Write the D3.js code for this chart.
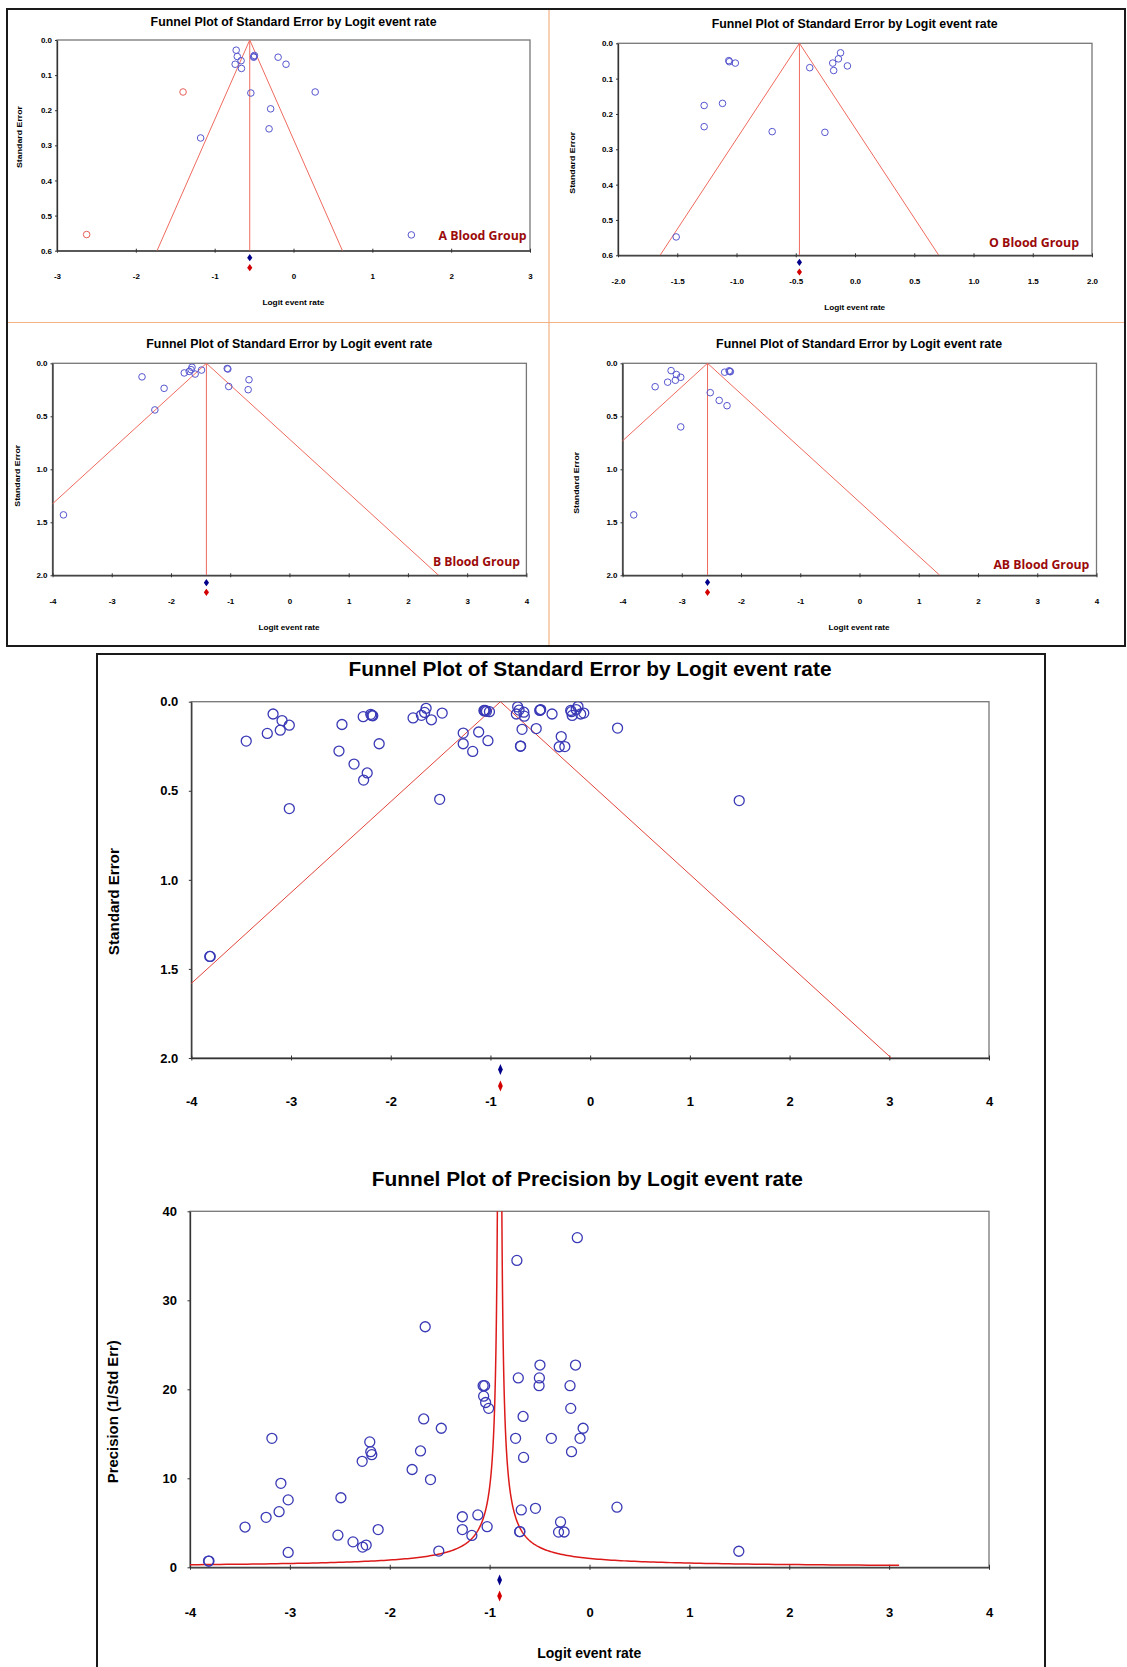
<!DOCTYPE html>
<html>
<head>
<meta charset="utf-8">
<script src="https://cdn.jsdelivr.net/npm/d3@7"></script>
<style>
  body { margin: 0; background: #fff; }
  svg { display: block; }
  text { font-family: "Liberation Sans", Arial, sans-serif; font-weight: bold; fill: #000; }
</style>
</head>
<body>
<div id="chart"></div>
<script>
// ---- data: [logit event rate, standard error] ----
const aPoints = [[-0.727,0.029],[-0.713,0.047],[-0.665,0.059],[-0.740,0.069],[-0.660,0.081],
  [-0.496,0.044],[-0.502,0.047],[-0.505,0.049],[-0.195,0.049],[-0.095,0.069],
  [-0.541,0.151],[0.275,0.148],[-0.290,0.196],[-0.310,0.253],[-1.178,0.279],[1.495,0.555]];
const aImputed = [[-1.401,0.148],[-2.624,0.554]];
const oPoints = [[-1.065,0.049],[-1.060,0.052],[-1.010,0.056],[-1.118,0.170],[-1.273,0.176],
  [-1.273,0.236],[-0.699,0.250],[-1.509,0.548],[-0.382,0.069],[-0.122,0.027],
  [-0.140,0.044],[-0.188,0.056],[-0.180,0.077],[-0.064,0.064],[-0.254,0.252]];
const bPoints = [[-2.489,0.128],[-2.116,0.236],[-2.272,0.440],[-3.815,1.430],[-1.776,0.091],
  [-1.692,0.0765],[-1.660,0.060],[-1.645,0.037],[-1.592,0.1015],[-1.484,0.064],
  [-1.050,0.049],[-1.040,0.054],[-1.025,0.219],[-0.683,0.155],[-0.697,0.249]];
const abPoints = [[-3.180,0.069],[-3.090,0.106],[-3.017,0.132],[-3.108,0.160],[-3.238,0.178],
  [-3.449,0.221],[-3.017,0.600],[-3.810,1.430],[-2.276,0.084],[-2.200,0.071],
  [-2.190,0.077],[-2.180,0.079],[-2.519,0.277],[-2.368,0.350],[-2.236,0.400]];
const allPoints = [...aPoints, ...oPoints, ...bPoints, ...abPoints];

const groupNames = ["A Blood Group", "O Blood Group", "B Blood Group", "AB Blood Group"];
const groupMeans = [-0.555, -0.469, -1.402, -2.565];
const overallMean = -0.9;

const seTicksSmall = [0, 0.1, 0.2, 0.3, 0.4, 0.5, 0.6];
const seTicksLarge = [0, 0.5, 1.0, 1.5, 2.0];
const xTicksA = [-3, -2, -1, 0, 1, 2, 3];
const xTicksO = [-2, -1.5, -1, -0.5, 0, 0.5, 1, 1.5, 2];
const xTicksWide = [-4, -3, -2, -1, 0, 1, 2, 3, 4];
const precisionTicks = [0, 10, 20, 30, 40];

const seTitle = "Funnel Plot of Standard Error by Logit event rate";
const precisionTitle = "Funnel Plot of Precision by Logit event rate";

// ---- drawing ----
const svg = d3.select("#chart").append("svg").attr("width", 1127).attr("height", 1667);

function label(x, y, txt, size, len, opts = {}) {
  const t = svg.append("text")
    .attr("x", x).attr("y", y).attr("dy", "0.35em")
    .attr("text-anchor", opts.anchor || "middle")
    .style("font-size", size + "px")
    .text(txt);
  if (len) t.attr("textLength", len).attr("lengthAdjust", "spacingAndGlyphs");
  if (opts.rotate) t.attr("transform", `rotate(-90,${x},${y})`);
  if (opts.fill) t.style("fill", opts.fill);
  return t;
}

function diamond(w, h) {
  return `M0,${-h}L${w},0L0,${h}L${-w},0Z`;
}

function drawAxes(b, x, y, c) {
  svg.append("rect").attr("x", b.left).attr("y", b.top)
    .attr("width", b.right - b.left).attr("height", b.bottom - b.top)
    .attr("fill", "none").attr("stroke", "#777").attr("stroke-width", 1.3);

  svg.append("g").attr("transform", `translate(0,${b.bottom})`)
    .call(d3.axisBottom(x).tickValues(c.xTicks).tickFormat(d => d.toFixed(c.xDec))
      .tickSizeInner(0).tickSizeOuter(0).tickPadding(c.xPad))
    .call(g => g.attr("font-size", null).attr("font-family", null))
    .call(g => g.select(".domain").attr("stroke", "#333").attr("stroke-width", 1.3))
    .call(g => g.selectAll(".tick line").attr("y1", -c.tick).attr("y2", c.tick).attr("stroke", "#333"))
    .call(g => g.selectAll("text").style("font-size", c.fs + "px"));

  svg.append("g").attr("transform", `translate(${b.left},0)`)
    .call(d3.axisLeft(y).tickValues(c.yTicks).tickFormat(d => d.toFixed(c.yDec))
      .tickSizeInner(0).tickSizeOuter(0).tickPadding(c.yPad))
    .call(g => g.attr("font-size", null).attr("font-family", null))
    .call(g => g.select(".domain").attr("stroke", "#333").attr("stroke-width", 1.3))
    .call(g => g.selectAll(".tick line").attr("x1", -c.tick).attr("x2", 0).attr("stroke", "#333"))
    .call(g => g.selectAll("text").style("font-size", c.fs + "px"));
}

function clipFor(id, b) {
  svg.append("clipPath").attr("id", id).append("rect")
    .attr("x", b.left).attr("y", b.top).attr("width", b.right - b.left).attr("height", b.bottom - b.top);
  return svg.append("g").attr("clip-path", `url(#${id})`);
}

function seFunnel(c) {
  const b = c.box;
  const x = d3.scaleLinear().domain(c.xDomain).range([b.left, b.right]);
  const y = d3.scaleLinear().domain([0, c.seMax]).range([b.top, b.bottom]);

  drawAxes(b, x, y, c);

  const inner = clipFor(c.id, b);
  const edge = [[c.mean - 1.96 * c.seMax, c.seMax], [c.mean, 0], [c.mean + 1.96 * c.seMax, c.seMax]];
  inner.append("path")
    .attr("d", d3.line().x(d => x(d[0])).y(d => y(d[1]))(edge))
    .attr("fill", "none").attr("stroke", c.lineColor).attr("stroke-width", 1);
  if (c.midLine) {
    inner.append("line")
      .attr("x1", x(c.mean)).attr("x2", x(c.mean)).attr("y1", y(0)).attr("y2", y(c.seMax))
      .attr("stroke", c.lineColor).attr("stroke-width", 1);
  }

  inner.selectAll(null).data(c.points).enter().append("circle")
    .attr("cx", d => x(d[0])).attr("cy", d => y(d[1])).attr("r", c.r)
    .attr("fill", "none").attr("stroke", c.dotColor).attr("stroke-width", c.dotWidth);
  if (c.imputed) {
    inner.selectAll(null).data(c.imputed).enter().append("circle")
      .attr("cx", d => x(d[0])).attr("cy", d => y(d[1])).attr("r", c.r)
      .attr("fill", "none").attr("stroke", "#e8605a").attr("stroke-width", c.dotWidth);
  }

  svg.append("path").attr("d", diamond(c.dw, c.dh))
    .attr("transform", `translate(${x(c.mean)},${c.diamondY[0]})`).attr("fill", "#00008b");
  svg.append("path").attr("d", diamond(c.dw, c.dh))
    .attr("transform", `translate(${x(c.mean)},${c.diamondY[1]})`).attr("fill", "#d40000");

  label(c.title.x, c.title.y, c.title.text, c.title.fs, c.title.len);
  if (c.xTitle) label(c.xTitle.x, c.xTitle.y, "Logit event rate", c.xTitle.fs, c.xTitle.len);
  label(c.yTitle.x, c.yTitle.y, "Standard Error", c.yTitle.fs, c.yTitle.len, { rotate: true });
  if (c.group) {
    svg.append("text").attr("x", c.group.x).attr("y", c.group.y)
      .attr("textLength", c.group.len).attr("lengthAdjust", "spacingAndGlyphs")
      .style("font-family", "'Open Sans', 'Noto Sans', sans-serif")
      .style("font-size", "13px").style("fill", "#9b0a0a")
      .text(c.group.text);
  }
}

function precisionFunnel(c) {
  const b = c.box;
  const x = d3.scaleLinear().domain(c.xDomain).range([b.left, b.right]);
  const y = d3.scaleLinear().domain([0, 40]).range([b.bottom, b.top]);

  drawAxes(b, x, y, c);

  const inner = clipFor(c.id, b);
  // boundary curve of the precision funnel, one branch on each side of the mean
  const k = 0.9;
  const branch = (dMax, side) => d3.range(0, 1.0001, 0.005).map(t => {
    const d = (k / 45) * Math.pow(dMax / (k / 45), t);
    return [c.mean + side * d, k / d];
  });
  const line = d3.line().x(d => x(d[0])).y(d => y(d[1]));
  [branch(c.mean - c.xDomain[0], -1), branch(c.curveEnd - c.mean, 1)].forEach(br => {
    inner.append("path").attr("d", line(br))
      .attr("fill", "none").attr("stroke", "#dd1a1a").attr("stroke-width", 1.5);
  });

  inner.selectAll(null).data(c.points).enter().append("circle")
    .attr("cx", d => x(d[0])).attr("cy", d => y(1 / d[1])).attr("r", c.r)
    .attr("fill", "none").attr("stroke", c.dotColor).attr("stroke-width", c.dotWidth);

  svg.append("path").attr("d", diamond(c.dw, c.dh))
    .attr("transform", `translate(${x(c.mean)},${c.diamondY[0]})`).attr("fill", "#00008b");
  svg.append("path").attr("d", diamond(c.dw, c.dh))
    .attr("transform", `translate(${x(c.mean)},${c.diamondY[1]})`).attr("fill", "#d40000");

  label(c.title.x, c.title.y, c.title.text, c.title.fs, c.title.len);
  label(c.xTitle.x, c.xTitle.y, "Logit event rate", c.xTitle.fs, c.xTitle.len);
  label(c.yTitle.x, c.yTitle.y, "Precision (1/Std Err)", c.yTitle.fs, c.yTitle.len, { rotate: true });
}

// frames around the two figure blocks
svg.append("rect").attr("x", 7).attr("y", 9).attr("width", 1118).attr("height", 637)
  .attr("fill", "none").attr("stroke", "#1a1a1a").attr("stroke-width", 2);
svg.append("line").attr("x1", 549).attr("x2", 549).attr("y1", 10).attr("y2", 645)
  .attr("stroke", "#f4b183").attr("stroke-width", 1.2);
svg.append("line").attr("x1", 8).attr("x2", 1124).attr("y1", 322.5).attr("y2", 322.5)
  .attr("stroke", "#f4b183").attr("stroke-width", 1.2);
svg.append("rect").attr("x", 97).attr("y", 654).attr("width", 948).attr("height", 1100)
  .attr("fill", "none").attr("stroke", "#1a1a1a").attr("stroke-width", 2);

const smallStyle = { fs: 8, tick: 2, r: 3.3, dotColor: "#5656cf", dotWidth: 1, lineColor: "#ef6a5e",
  dw: 2.6, dh: 3.6, midLine: true };

seFunnel({ ...smallStyle, id: "cA", points: aPoints, imputed: aImputed, mean: groupMeans[0],
  box: { left: 57, right: 530, top: 40, bottom: 250.7 },
  xDomain: [-3, 3], xTicks: xTicksA, xDec: 0, xPad: 23, seMax: 0.6, yTicks: seTicksSmall, yDec: 1, yPad: 5,
  diamondY: [257.7, 267.7],
  title: { x: 293.6, y: 21.3, text: seTitle, fs: 12, len: 286 },
  xTitle: { x: 293.4, y: 302, fs: 8, len: 62 },
  yTitle: { x: 19.6, y: 137, fs: 8, len: 62 },
  group: { x: 438.6, y: 240, len: 88, text: groupNames[0] } });

seFunnel({ ...smallStyle, id: "cO", points: oPoints, mean: groupMeans[1],
  box: { left: 618, right: 1092, top: 43.3, bottom: 255.3 },
  xDomain: [-2, 2], xTicks: xTicksO, xDec: 1, xPad: 23.5, seMax: 0.6, yTicks: seTicksSmall, yDec: 1, yPad: 5,
  diamondY: [262.3, 272],
  title: { x: 854.7, y: 24, text: seTitle, fs: 12, len: 286 },
  xTitle: { x: 854.7, y: 306.7, fs: 8, len: 61 },
  yTitle: { x: 572, y: 162.7, fs: 8, len: 62 },
  group: { x: 989, y: 246.7, len: 90, text: groupNames[1] } });

seFunnel({ ...smallStyle, id: "cB", points: bPoints, mean: groupMeans[2],
  box: { left: 52.5, right: 526.4, top: 363.3, bottom: 575.3 },
  xDomain: [-4, 4], xTicks: xTicksWide, xDec: 0, xPad: 23.5, seMax: 2, yTicks: seTicksLarge, yDec: 1, yPad: 5,
  diamondY: [582.7, 592.3],
  title: { x: 289.3, y: 344, text: seTitle, fs: 12, len: 286 },
  xTitle: { x: 289, y: 626.7, fs: 8, len: 61 },
  yTitle: { x: 17, y: 475.7, fs: 8, len: 62 },
  group: { x: 432.9, y: 566, len: 87, text: groupNames[2] } });

seFunnel({ ...smallStyle, id: "cAB", points: abPoints, mean: groupMeans[3],
  box: { left: 622.5, right: 1096.5, top: 363.3, bottom: 575.3 },
  xDomain: [-4, 4], xTicks: xTicksWide, xDec: 0, xPad: 23.5, seMax: 2, yTicks: seTicksLarge, yDec: 1, yPad: 5,
  diamondY: [582.3, 592.3],
  title: { x: 859.1, y: 344, text: seTitle, fs: 12, len: 286 },
  xTitle: { x: 859.1, y: 626.7, fs: 8, len: 61 },
  yTitle: { x: 576.5, y: 482.8, fs: 8, len: 62 },
  group: { x: 993.4, y: 569.3, len: 96, text: groupNames[3] } });

const bigStyle = { fs: 13, tick: 2.5, r: 5, dotColor: "#3a3ab6", dotWidth: 1.3, lineColor: "#e2453c",
  dw: 2.4, dh: 5.5 };

seFunnel({ ...bigStyle, id: "cAll", points: allPoints, mean: overallMean, midLine: false,
  box: { left: 191.3, right: 989, top: 701.7, bottom: 1058 },
  xDomain: [-4, 4], xTicks: xTicksWide, xDec: 0, xPad: 39, seMax: 2, yTicks: seTicksLarge, yDec: 1, yPad: 13,
  diamondY: [1069.5, 1086],
  title: { x: 590, y: 669, text: seTitle, fs: 20, len: 483 },
  yTitle: { x: 114.3, y: 901.7, fs: 14, len: 107 } });

precisionFunnel({ ...bigStyle, id: "cPrec", points: allPoints, mean: overallMean, curveEnd: 3.1,
  box: { left: 190, right: 989, top: 1211.3, bottom: 1567.3 },
  xDomain: [-4, 4], xTicks: xTicksWide, xDec: 0, xPad: 40, yTicks: precisionTicks, yDec: 0, yPad: 13,
  diamondY: [1580, 1596],
  title: { x: 587.3, y: 1179.3, text: precisionTitle, fs: 20, len: 431 },
  xTitle: { x: 589.3, y: 1653.3, fs: 14, len: 104 },
  yTitle: { x: 113, y: 1411.7, fs: 14, len: 143 } });
</script>
</body>
</html>
